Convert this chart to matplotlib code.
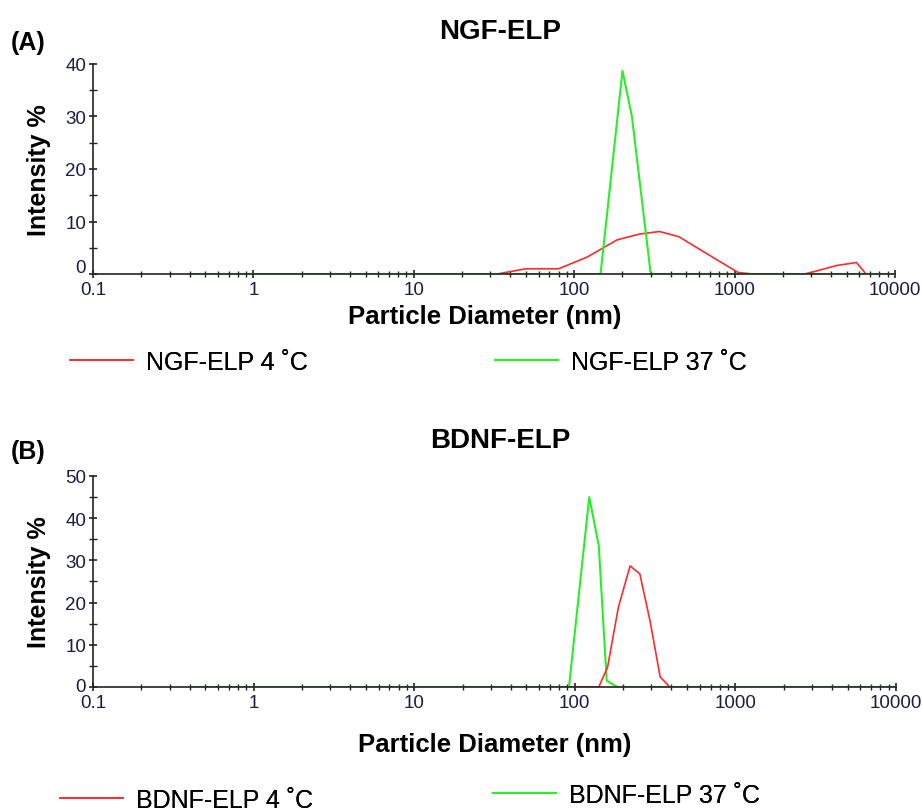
import numpy as np
import matplotlib
matplotlib.use('Agg')
import matplotlib.pyplot as plt
from matplotlib.ticker import FixedLocator, NullFormatter, LogLocator
from matplotlib.transforms import ScaledTranslation

plt.rcParams['font.family'] = ['Liberation Sans', 'DejaVu Sans']

# NGF-ELP (panel A)
ngf4_x = [33, 50, 80, 120, 185, 255, 340, 450, 730, 1050, 1300, 2700, 3000, 4300, 5750, 6600]
ngf4_y = [0, 1.0, 1.0, 3.2, 6.5, 7.6, 8.1, 7.1, 3.2, 0.3, 0, 0, 0.3, 1.6, 2.2, 0]
ngf37_x = [0.4, 146, 200, 229, 300, 10000]
ngf37_y = [0, 0, 38.7, 30, 0, 0]

# BDNF-ELP (panel B)
bdnf4_x = [95, 141, 160, 187, 221, 254, 295, 340, 390]
bdnf4_y = [0, 0, 4.7, 19, 28.7, 26.8, 15.4, 2.4, 0]
bdnf37_x = [0.4, 92, 123, 141, 158, 184, 10000]
bdnf37_y = [0, 0, 45, 33.5, 1.5, 0, 0]

tick_col = '#1c1c44'
red = '#ff2a2a'
green = '#2aee2a'

fig = plt.figure(figsize=(9.22, 8.12), dpi=100)


def style_axis(ax, ymax, xpad, zero_lift):
    ax.set_xscale('log')
    ax.set_xlim(0.1, 10000)
    ax.set_ylim(0, ymax)
    ax.spines['top'].set_visible(False)
    ax.spines['right'].set_visible(False)
    for s in ('left', 'bottom'):
        ax.spines[s].set_linewidth(1.2)
        ax.spines[s].set_color('#222222')
    ax.set_xticks([0.1, 1, 10, 100, 1000, 10000])
    ax.set_xticklabels(['0.1', '1', '10', '100', '1000', '10000'])
    ax.xaxis.set_minor_locator(LogLocator(base=10, subs=np.arange(2, 10)))
    ax.xaxis.set_minor_formatter(NullFormatter())
    ax.set_yticks(np.arange(0, ymax + 1, 10))
    ax.yaxis.set_minor_locator(FixedLocator(np.arange(5, ymax, 10)))
    ax.tick_params(axis='both', which='major', direction='inout', length=6, width=1.2,
                   labelsize=13.5, labelcolor=tick_col, color='#222222', pad=2)
    ax.tick_params(axis='both', which='minor', direction='inout', length=4, width=1.0,
                   color='#222222')
    ax.tick_params(axis='y', which='minor', length=6)
    # lift the "0" label a little above the x axis, as in the original
    zero_lab = ax.get_yticklabels()[0]
    zero_lab.set_transform(zero_lab.get_transform() +
                           ScaledTranslation(0, zero_lift / 72, fig.dpi_scale_trans))
    ax.set_xlabel('Particle Diameter (nm)', fontsize=18.5, fontweight='bold', labelpad=xpad)
    ax.set_ylabel('Intensity %', fontsize=18, fontweight='bold', labelpad=10)


def legend_entry(handle, x, y):
    leg = fig.legend(handles=[handle], loc='center left', bbox_to_anchor=(x, y),
                     frameon=False, fontsize=18, handlelength=2.5, handletextpad=0.55,
                     borderpad=0, borderaxespad=0)
    fig.add_artist(leg)


# Panel A
ax1 = fig.add_axes([0.1009, 0.6613, 0.8698, 0.2587])
style_axis(ax1, 40, 4, 6)
ax1.xaxis.label.set_x(0.489)
l1, = ax1.plot(ngf4_x, ngf4_y, color=red, lw=1.2, label='NGF-ELP 4 \u02daC')
l2, = ax1.plot(ngf37_x, ngf37_y, color=green, lw=1.5, label='NGF-ELP 37 \u02daC')
ax1.set_title('NGF-ELP', fontsize=20, fontweight='bold', pad=19, x=0.508)
fig.text(0.012, 0.947, '(A)', fontsize=18, fontweight='bold', va='center')
legend_entry(l1, 70 / 922, 1 - 363 / 812)
legend_entry(l2, 495 / 922, 1 - 363 / 812)

# Panel B
ax2 = fig.add_axes([0.1009, 0.1527, 0.8709, 0.2599])
style_axis(ax2, 50, 15, 2)
l3, = ax2.plot(bdnf37_x, bdnf37_y, color=green, lw=1.5, label='BDNF-ELP 37 \u02daC')
l4, = ax2.plot(bdnf4_x, bdnf4_y, color=red, lw=1.2, label='BDNF-ELP 4 \u02daC')
ax2.set_title('BDNF-ELP', fontsize=20, fontweight='bold', pad=21, x=0.507)
fig.text(0.012, 0.443, '(B)', fontsize=18, fontweight='bold', va='center')
legend_entry(l4, 60 / 922, 1 - 801 / 812)
legend_entry(l3, 493 / 922, 1 - 796 / 812)

fig.savefig('out.png', dpi=100)
